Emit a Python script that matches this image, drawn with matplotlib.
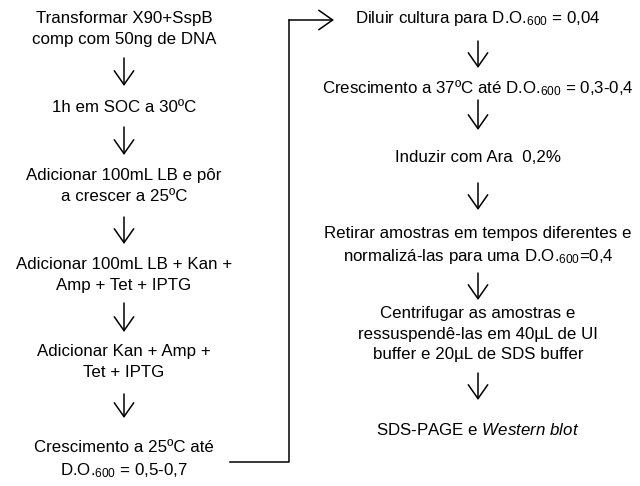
import matplotlib
matplotlib.use("Agg")
import matplotlib.pyplot as plt

plt.rcParams['font.family'] = ['Liberation Sans', 'DejaVu Sans']
plt.rcParams['mathtext.fontset'] = 'custom'
plt.rcParams['mathtext.rm'] = 'Liberation Sans'
plt.rcParams['mathtext.it'] = 'Liberation Sans:italic'

# Steps of the protocol (left column, then right column)
left_steps = [
    "Transformar X90+SspB\ncomp com 50ng de DNA",
    "1h em SOC a 30ºC",
    "Adicionar 100mL LB e pôr\na crescer a 25ºC",
    "Adicionar 100mL LB + Kan +\nAmp + Tet + IPTG",
    "Adicionar Kan + Amp +\nTet + IPTG",
    "Crescimento a 25ºC até\nD.O.$_{600}$ = 0,5-0,7",
]
right_steps = [
    "Diluir cultura para D.O.$_{600}$ = 0,04",
    "Crescimento a 37ºC até D.O.$_{600}$ = 0,3-0,4",
    "Induzir com Ara  0,2%",
    "Retirar amostras em tempos diferentes e\nnormalizá-las para uma D.O.$_{600}$=0,4",
    "Centrifugar as amostras e\nressuspendê-las em 40µL de UI\nbuffer e 20µL de SDS buffer",
    "SDS-PAGE e $\\mathit{Western\\ blot}$",
]

# layout (pixel coordinates, y downwards)
left_x, right_x = 124, 478
left_y = [29, 107, 186, 275, 362, 460]
right_y = [18, 88, 157, 246, 334, 430]
left_arrows = [(58, 86), (127, 155), (217, 244), (303, 332), (394, 418)]
right_arrows = [(41, 68), (100, 130), (183, 210), (273, 300), (373, 400)]

fig = plt.figure(figsize=(6.4, 4.86), dpi=100)
ax = fig.add_axes([0, 0, 1, 1])
ax.set_xlim(0, 640)
ax.set_ylim(486, 0)
ax.axis('off')

arrow_kw = dict(arrowstyle='->,head_length=1.0,head_width=0.7',
                lw=1.1, color='black', mutation_scale=10,
                shrinkA=0, shrinkB=0)

for x, ys, steps, arrows in [(left_x, left_y, left_steps, left_arrows),
                             (right_x, right_y, right_steps, right_arrows)]:
    for y, s in zip(ys, steps):
        ax.text(x, y, s, ha='center', va='center', fontsize=12.2,
                linespacing=1.45, multialignment='center')
    for y0, y1 in arrows:
        ax.annotate('', xy=(x, y1), xytext=(x, y0), arrowprops=arrow_kw)

# connector from the last left step to the first right step
ax.plot([230, 289, 289], [462, 462, 20], color='black', lw=1.1)
ax.annotate('', xy=(334, 20), xytext=(289, 20), arrowprops=arrow_kw)

fig.savefig("out.png", dpi=100)
